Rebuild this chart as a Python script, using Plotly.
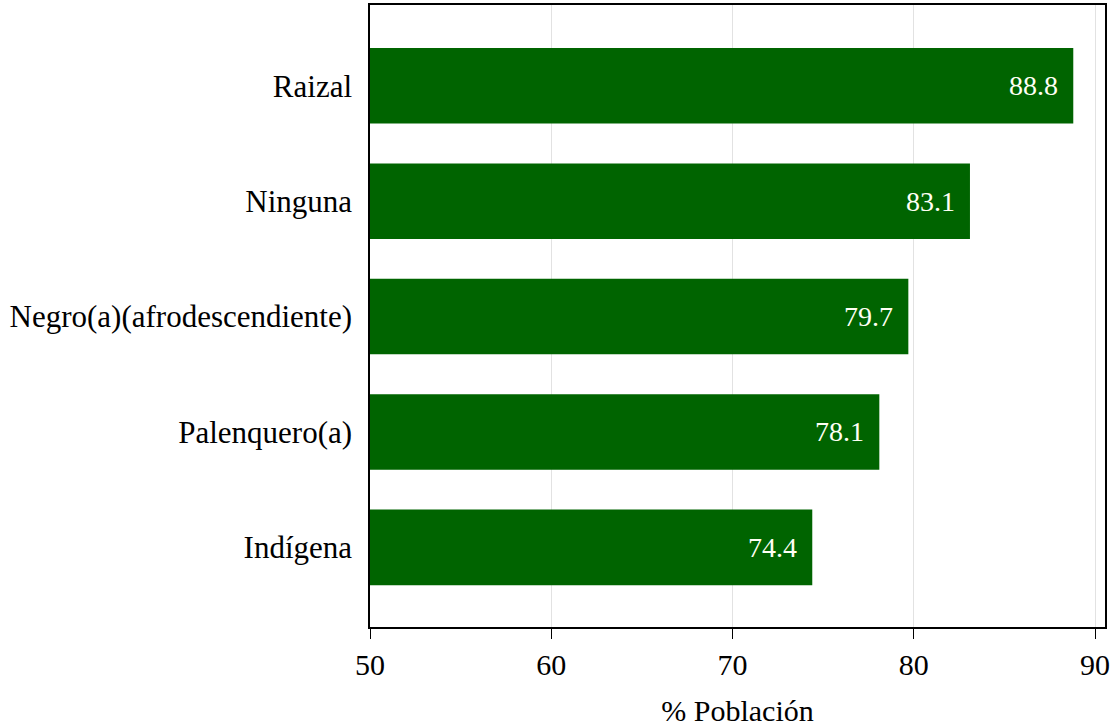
import plotly.graph_objects as go

categories = ["Indígena", "Palenquero(a)", "Negro(a)(afrodescendiente)", "Ninguna", "Raizal"]
values = [74.4, 78.1, 79.7, 83.1, 88.8]
x_ticks = [50, 60, 70, 80, 90]

positions = list(range(len(categories)))
FONT = "Liberation Serif"

fig = go.Figure()
fig.add_trace(go.Bar(
    x=values,
    y=positions,
    orientation="h",
    marker=dict(color="#006400", line=dict(width=0)),
    width=0.655,
    hoverinfo="x+y",
))

for p, v in zip(positions, values):
    fig.add_annotation(
        x=v, y=p, xref="x", yref="y",
        text=f"{v:.1f}", showarrow=False,
        xanchor="right", yanchor="middle", xshift=-13,
        font=dict(family=FONT, size=28, color="#fffff4"),
    )

fig.update_layout(
    width=1114, height=727,
    margin=dict(l=370, r=9, t=3, b=100),
    paper_bgcolor="white", plot_bgcolor="white",
    showlegend=False,
    font=dict(family=FONT, color="black"),
    bargap=0.345,
)
fig.update_xaxes(
    range=[50, 90.55],
    tickvals=x_ticks,
    ticktext=[str(t) for t in x_ticks],
    ticks="outside", ticklen=10, tickwidth=1.2, tickcolor="black",
    tickfont=dict(family=FONT, size=30, color="black"),
    showgrid=True, gridcolor="#e2e2e2", gridwidth=1,
    showline=True, linecolor="black", linewidth=1.5, mirror=True,
    zeroline=False,
    title=dict(text="% Población", font=dict(family=FONT, size=30, color="black"), standoff=20),
)
fig.update_yaxes(
    range=[-0.69, 4.70],
    tickvals=positions,
    ticktext=categories,
    ticks="",
    ticklabelstandoff=10,
    tickfont=dict(family=FONT, size=31, color="black"),
    showgrid=False,
    showline=True, linecolor="black", linewidth=1.5, mirror=True,
    zeroline=False,
)

fig.write_html(
    "out.html",
    config={"displayModeBar": False},
    post_script="document.body.style.margin='0';document.body.style.overflow='hidden';",
)
